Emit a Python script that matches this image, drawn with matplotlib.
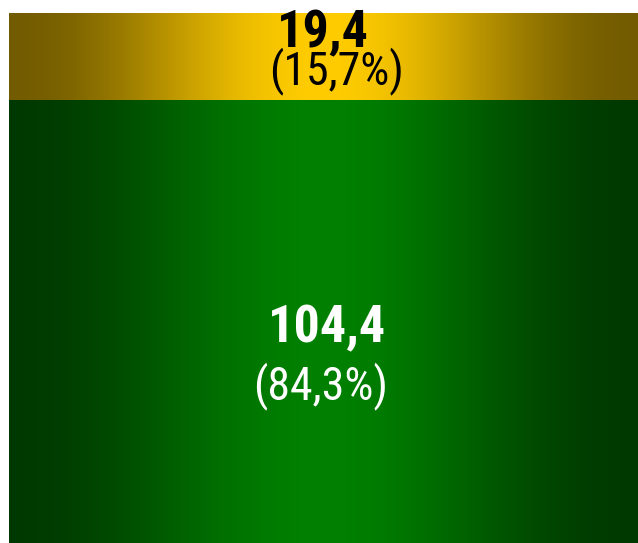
import numpy as np
import matplotlib
matplotlib.use("Agg")
import matplotlib.pyplot as plt

categories = ["Green", "Gold"]
values = [104.4, 19.4]
shares = ["(84,3%)", "(15,7%)"]
value_labels = ["104,4", "19,4"]
colors = ["#008000", "#FFCC00"]
text_colors = ["white", "black"]

fam = ["Roboto Condensed", "DejaVu Sans"]

W, H = 638, 543
fig = plt.figure(figsize=(W / 100, H / 100), dpi=100)
# bar area: pixels x 9..638, y 13..567 (bottom runs past the figure edge)
x0, x1, y0, y1 = 9, 638, 13, 567
ax = fig.add_axes([x0 / W, (H - y1) / H, (x1 - x0) / W, (y1 - y0) / H])
total = sum(values)
ax.set_xlim(-0.5, 0.5)
ax.set_ylim(0, total)
ax.axis("off")

def px2data(px, py):
    return (px - (x0 + x1) / 2) / (x1 - x0), total * (y1 - py) / (y1 - y0)

bottom = 0
xg = np.linspace(0, 1, 600)
t = 1 - np.abs(xg - 0.5) * 2
prof = 0.45 + 0.55 * (0.5 - 0.5 * np.cos(np.pi * t))
for v, c in zip(values, colors):
    bars = ax.bar(0, v, width=1.0, bottom=bottom, color="none", edgecolor="none")
    rgb = np.array(matplotlib.colors.to_rgb(c))
    img = (prof[:, None] * rgb[None, :])[None, :, :]
    im = ax.imshow(img, extent=(-0.5, 0.5, bottom, bottom + v), aspect="auto",
                   interpolation="bilinear", zorder=1)
    im.set_clip_path(bars[0])
    bottom += v

# labels (baseline positions in pixels)
label_pos = [((327.5, 342), (321, 399)), ((322.5, 47), (336.5, 84))]
for (vp, sp), vl, sh, tc in zip(label_pos, value_labels, shares, text_colors):
    x, y = px2data(*vp)
    ax.text(x, y, vl, ha="center", va="baseline", color=tc, fontsize=37.5,
            fontweight="bold", family=fam)
    x, y = px2data(*sp)
    ax.text(x, y, sh, ha="center", va="baseline", color=tc, fontsize=33,
            family=fam)

fig.savefig("out.png", dpi=100)
